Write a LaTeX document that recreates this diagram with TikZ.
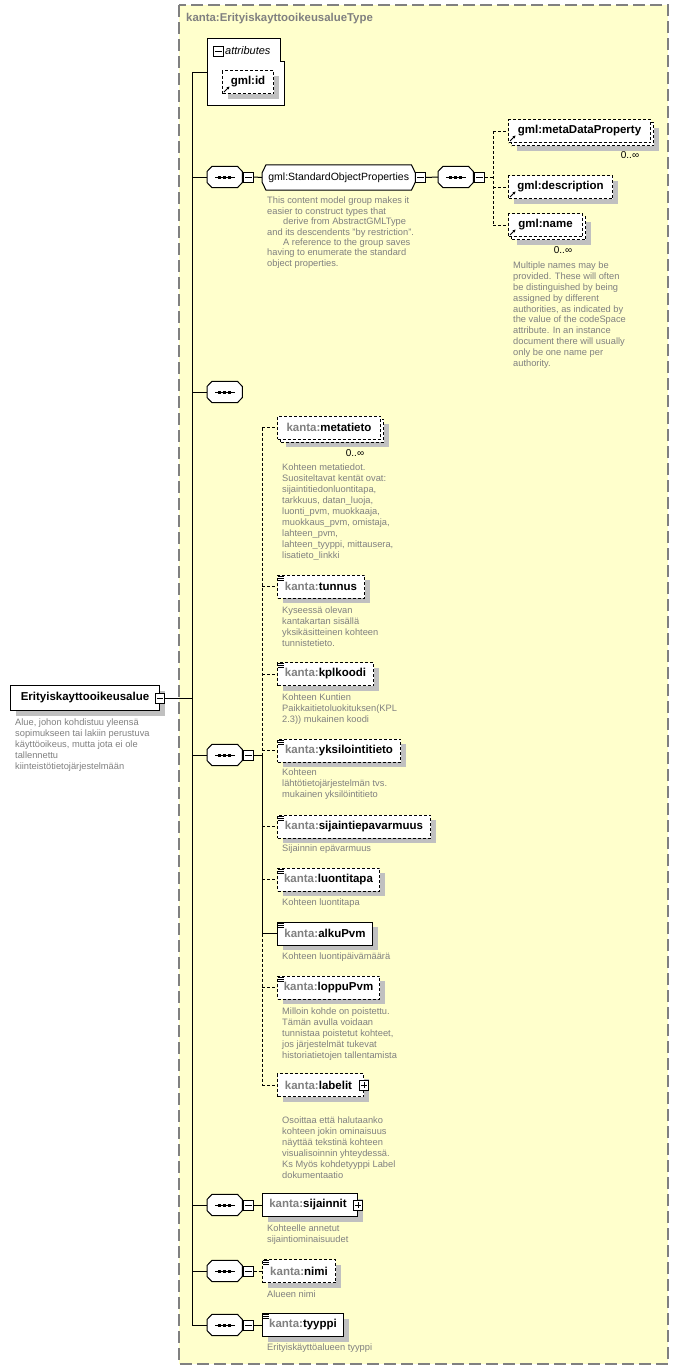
\documentclass[tikz,border=0pt]{standalone}
\usepackage{fontspec}
\setmainfont{Liberation Sans}
\usetikzlibrary{shadows,arrows.meta}
\definecolor{bgy}{HTML}{FFFFCC}
\definecolor{tbord}{HTML}{808080}
\definecolor{shd}{HTML}{C0C0C0}
\definecolor{desc}{HTML}{808080}
\definecolor{pfx}{HTML}{808080}
\newcommand{\kp}[1]{{\color{pfx}kanta:}#1}
\tikzset{
  ln/.style={line width=1pt},
  dln/.style={line width=1pt, dash pattern=on 3pt off 2pt},
  shad/.style={drop shadow={shadow xshift=5pt, shadow yshift=-5pt, fill=shd, opacity=1}},
  elem/.style={rectangle, draw, line width=1pt, fill=white, minimum height=23pt, inner sep=0pt, anchor=west, font=\fontsize{11.5}{13}\selectfont\bfseries},
  opt/.style={dash pattern=on 3pt off 2pt},
  seqbox/.style={rectangle, minimum width=35pt, minimum height=21pt, inner sep=0pt, anchor=west},
  grpbox/.style={rectangle, minimum width=153pt, minimum height=25pt, inner sep=0pt, anchor=west, font=\fontsize{10.5}{12}\selectfont},
  mbox/.style={rectangle, draw, line width=0.8pt, fill=white, minimum width=9.5pt, minimum height=10pt, inner sep=0pt},
  desctext/.style={anchor=north west, inner sep=0pt, align=left, text=desc, font=\fontsize{9.3}{11}\selectfont},
  card/.style={inner sep=0pt, font=\fontsize{10}{12}\selectfont}
}
\newcommand{\xminus}[1]{\draw[line width=0.8pt] ([xshift=2pt]#1.west) -- ([xshift=-2pt]#1.east);}
\newcommand{\xplus}[1]{\draw[line width=0.8pt] ([xshift=2pt]#1.west) -- ([xshift=-2pt]#1.east) ([yshift=2.5pt]#1.south) -- ([yshift=-2.5pt]#1.north);}
% octagon outline around a named node: #1 node, #2 cut
\newcommand{\xoct}[2]{%
  \begin{scope}[shift={(4pt,-4pt)}]
  \fill[shd] ([yshift=#2+0.5pt]#1.west) -- ([xshift=#2]#1.north west) -- ([xshift=-#2]#1.north east) -- ([yshift=#2+0.5pt]#1.east) -- ([yshift=-#2-0.5pt]#1.east) -- ([xshift=-#2]#1.south east) -- ([xshift=#2]#1.south west) -- ([yshift=-#2-0.5pt]#1.west) -- cycle;
  \end{scope}
  \draw[line width=1pt, fill=white] ([yshift=#2+0.5pt]#1.west) -- ([xshift=#2]#1.north west) -- ([xshift=-#2]#1.north east) -- ([yshift=#2+0.5pt]#1.east) -- ([yshift=-#2-0.5pt]#1.east) -- ([xshift=-#2]#1.south east) -- ([xshift=#2]#1.south west) -- ([yshift=-#2-0.5pt]#1.west) -- cycle;
}
\newcommand{\xsqbody}[3]{%
  \node[seqbox] (#1) at (#2,#3) {};
  \xoct{#1}{5pt}
  \draw[line width=1pt] ([xshift=8pt]#1.west) -- ([xshift=-7pt]#1.east);
  \foreach \dd in {-6.5,-1.5,3.5}{\fill ([xshift=\dd pt,yshift=-1.5pt]#1.center) rectangle ++(3pt,3pt);}
}
\newcommand{\xsq}[3]{%
  \xsqbody{#1}{#2}{#3}
  \node[mbox, anchor=west] (#1m) at ([xshift=1pt]#1.east) {};
  \xminus{#1m}
}
\newcommand{\xref}[1]{\draw[line width=0.9pt, -{Stealth[length=3pt,width=3pt]}] ([shift={(2pt,2pt)}]#1.south west) -- ([shift={(7.5pt,7.5pt)}]#1.south west);}
\newcommand{\xeq}[1]{\foreach \kk in {1.5,3.5,5.5}{\draw[line width=0.7pt] ([shift={(1pt,-\kk pt)}]#1.north west) -- ++(6pt,0pt);}}
\begin{document}
\begin{tikzpicture}[x=1pt,y=-1pt]
\useasboundingbox (0,0) rectangle (678,1371);
\fill[white] (0,0) rectangle (678,1371);
% complex type area
\draw[tbord, line width=1.2pt, dash pattern=on 12pt off 5pt, fill=bgy] (179,5) rectangle (668,1364);
\node[anchor=west, inner sep=0pt, text=tbord, font=\fontsize{11.4}{13}\selectfont\bfseries] (title) at (186,19) {kanta:ErityiskayttooikeusalueType};

% attributes
\draw[line width=1pt, fill=white] (207,38) -- (280,38) -- (280,61) -- (284,61) -- (284,105) -- (207,105) -- cycle;
\node[mbox] (attrm) at (218.5,51) {};
\xminus{attrm}
\node[anchor=west, inner sep=0pt, font=\fontsize{11}{13}\selectfont\itshape] (attrl) at (225,51) {attributes};
\node[elem, opt, shad, minimum width=51pt] (gid) at (222,82) {gml:id};
\xref{gid}
\coordinate (attrIn) at (207,72);

% root
\node[elem, shad, minimum width=149pt, minimum height=25pt] (root) at (10,698) {Erityiskayttooikeusalue};
\node[mbox] (rootm) at (root.east) {};
\xminus{rootm}
\node[desctext] (rootd) at (15,719) {Alue, johon kohdistuu yleensä\\sopimukseen tai lakiin perustuva\\käyttöoikeus, mutta jota ei ole\\tallennettu\\kiinteistötietojärjestelmään};

% trunk
\coordinate (tTop) at (192,72);
\coordinate (tBot) at (192,1325);
\draw[ln] (tTop) -- (tBot);
\draw[ln] (tTop) -- (attrIn);
\draw[ln] (rootm.east) -- (rootm.east -| tTop);

% row 1: standard object properties
\xsq{sq1}{207}{177}
\draw[ln] (sq1.west -| tTop) -- (sq1.west);
\node[grpbox] (sop) at (262,177.5) {};
\xoct{sop}{4pt}
\node[inner sep=0pt, font=\fontsize{10.5}{12}\selectfont] (sopt) at (sop.center) {gml:StandardObjectProperties};
\node[mbox, anchor=west] (sopm) at (sop.east) {};
\xminus{sopm}
\draw[ln] (sq1m.east) -- (sop.west);
\node[desctext, font=\fontsize{9.3}{10.4}\selectfont] (sopd) at (267,197) {This content model group makes it\\easier to construct types that\\\hspace*{16pt}derive from AbstractGMLType\\and its descendents "by restriction".\\\hspace*{16pt}A reference to the group saves\\having to enumerate the standard\\object properties.};
\xsq{sq2}{438}{177}
\draw[ln] (sopm.east) -- (sq2.west);
\coordinate (br2) at (493,177);
\draw[dln] (sq2m.east) -- (br2);

\node[elem, opt, shad, minimum width=142pt] (mdpg) at (511,134) {};
\node[elem, opt, minimum width=142pt] (mdp) at (508,131) {gml:metaDataProperty};
\xref{mdp}
\node[card] (mdpc) at (630,155) {0..∞};
\node[elem, opt, shad, minimum width=104pt] (gdesc) at (508,187) {gml:description};
\xref{gdesc}
\node[elem, opt, shad, minimum width=74pt] (gnameg) at (511,228) {};
\node[elem, opt, minimum width=74pt] (gname) at (508,225) {gml:name};
\xref{gname}
\node[card] (gnamec) at (563,250) {0..∞};
\draw[dln] (br2 |- mdp.west) -- (br2 |- gname.west);
\draw[dln] (br2 |- mdp.west) -- (mdp.west);
\draw[dln] (br2 |- gdesc.west) -- (gdesc.west);
\draw[dln] (br2 |- gname.west) -- (gname.west);
\node[desctext, font=\fontsize{9.3}{10.8}\selectfont] (gnamed) at (513,262) {Multiple names may be\\provided.  These will often\\be distinguished by being\\assigned by different\\authorities, as indicated by\\the value of the codeSpace\\attribute.  In an instance\\document there will usually\\only be one name per\\authority.};

% row 2: empty sequence
\xsqbody{sqe}{207}{392}
\draw[ln] (sqe.west -| tTop) -- (sqe.west);

% row 3: main sequence
\xsq{sq3}{207}{755}
\draw[ln] (sq3.west -| tTop) -- (sq3.west);
\coordinate (br3) at (262,755);
\draw[ln] (sq3m.east) -- (br3);

\node[elem, opt, shad, minimum width=103pt] (metag) at (280,430.5) {};
\node[elem, opt, minimum width=103pt] (meta) at (277,427.5) {\kp{metatieto}};
\node[card] (metac) at (355,453) {0..∞};
\node[desctext] (metad) at (282,464) {Kohteen metatiedot.\\Suositeltavat kentät ovat:\\sijaintitiedonluontitapa,\\tarkkuus, datan\_luoja,\\luonti\_pvm, muokkaaja,\\muokkaus\_pvm, omistaja,\\lahteen\_pvm,\\lahteen\_tyyppi, mittausera,\\lisatieto\_linkki};

\node[elem, opt, shad, minimum width=87pt] (tun) at (277,586.5) {\kp{tunnus}};
\xeq{tun}
\node[desctext] (tund) at (282,607) {Kyseessä olevan\\kantakartan sisällä\\yksikäsitteinen kohteen\\tunnistetieto.};

\node[elem, opt, shad, minimum width=96pt] (kpl) at (277,674) {\kp{kplkoodi}};
\xeq{kpl}
\node[desctext] (kpld) at (282,694) {Kohteen Kuntien\\Paikkaitietoluokituksen(KPL\\2.3)) mukainen koodi};

\node[elem, opt, shad, minimum width=123pt] (yks) at (277,750.5) {\kp{yksilointitieto}};
\xeq{yks}
\node[desctext] (yksd) at (282,769) {Kohteen\\lähtötietojärjestelmän  tvs.\\mukainen yksilöintitieto};

\node[elem, opt, shad, minimum width=153pt] (sep) at (277,826.5) {\kp{sijaintiepavarmuus}};
\xeq{sep}
\node[desctext] (sepd) at (282,845) {Sijainnin epävarmuus};

\node[elem, opt, shad, minimum width=102pt] (lt) at (277,879.5) {\kp{luontitapa}};
\xeq{lt}
\node[desctext] (ltd) at (282,899) {Kohteen luontitapa};

\node[elem, shad, minimum width=95pt] (ap) at (277,933.5) {\kp{alkuPvm}};
\xeq{ap}
\node[desctext] (apd) at (282,953) {Kohteen luontipäivämäärä};

\node[elem, opt, shad, minimum width=102pt] (lp) at (277,987.5) {\kp{loppuPvm}};
\xeq{lp}
\node[desctext] (lpd) at (282,1008) {Milloin kohde on poistettu.\\Tämän avulla voidaan\\tunnistaa poistetut kohteet,\\jos järjestelmät tukevat\\historiatietojen tallentamista};

\node[elem, opt, shad, minimum width=86pt] (lab) at (277,1085) {\kp{labelit}\hspace*{4pt}};
\node[mbox] (labm) at (lab.east) {};
\xplus{labm}
\node[desctext] (labd) at (282,1117) {Osoittaa että halutaanko\\kohteen jokin ominaisuus\\näyttää tekstinä kohteen\\visualisoinnin yhteydessä.\\ Ks Myös kohdetyyppi Label\\dokumentaatio};

\draw[dln] (br3 |- meta.west) -- (br3);
\draw[ln] (br3) -- (br3 |- ap.west);
\draw[dln] (br3 |- ap.west) -- (br3 |- lab.west);
\draw[dln] (br3 |- meta.west) -- (meta.west);
\draw[dln] (br3 |- tun.west) -- (tun.west);
\draw[dln] (br3 |- kpl.west) -- (kpl.west);
\draw[dln] (br3 |- yks.west) -- (yks.west);
\draw[dln] (br3 |- sep.west) -- (sep.west);
\draw[dln] (br3 |- lt.west) -- (lt.west);
\draw[ln] (br3 |- ap.west) -- (ap.west);
\draw[dln] (br3 |- lp.west) -- (lp.west);
\draw[dln] (br3 |- lab.west) -- (lab.west);

% row 4: sijainnit
\xsq{sq4}{207}{1205}
\draw[ln] (sq4.west -| tTop) -- (sq4.west);
\node[elem, shad, minimum width=95pt] (sij) at (262,1205) {\kp{sijainnit}\hspace*{4pt}};
\node[mbox] (sijm) at (sij.east) {};
\xplus{sijm}
\draw[ln] (sq4m.east) -- (sij.west);
\node[desctext] (sijd) at (267,1225) {Kohteelle annetut\\sijaintiominaisuudet};

% row 5: nimi
\xsq{sq5}{207}{1271}
\draw[ln] (sq5.west -| tTop) -- (sq5.west);
\node[elem, opt, shad, minimum width=73pt] (nimi) at (262,1271) {\kp{nimi}};
\xeq{nimi}
\draw[dln] (sq5m.east) -- (nimi.west);
\node[desctext] (nimid) at (267,1291) {Alueen nimi};

% row 6: tyyppi
\xsq{sq6}{207}{1325}
\draw[ln] (sq6.west -| tTop) -- (sq6.west);
\node[elem, shad, minimum width=81pt] (tyy) at (262,1325) {\kp{tyyppi}};
\xeq{tyy}
\draw[ln] (sq6m.east) -- (tyy.west);
\node[desctext] (tyyd) at (267,1344) {Erityiskäyttöalueen tyyppi};
\end{tikzpicture}
\end{document}
